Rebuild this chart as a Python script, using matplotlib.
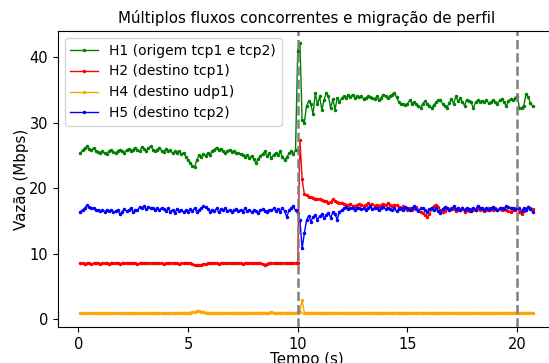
import numpy as np
import matplotlib
matplotlib.use("Agg")
import matplotlib.pyplot as plt

t = np.round(np.arange(1, 208) * 0.1, 1)

h1 = [
    25.3, 25.8, 26.1, 26.4, 26.0, 25.8, 26.1, 25.7, 25.5, 25.4,
    25.6, 25.3, 25.2, 25.6, 25.8, 25.5, 25.3, 25.7, 25.9, 25.6,
    25.4, 25.8, 26.0, 25.7, 25.9, 26.2, 25.8, 25.6, 26.3, 26.0,
    25.7, 26.1, 26.4, 25.9, 25.6, 25.9, 26.2, 25.7, 25.5, 26.0,
    25.6, 25.8, 25.3, 25.6, 25.4, 25.7, 25.2, 25.4, 24.8, 24.3,
    23.9, 23.4, 23.2, 24.3, 25.0, 24.7, 25.2, 24.9, 25.4, 25.1,
    25.6, 25.9, 26.2, 25.8, 26.0, 25.6, 25.3, 25.7, 25.9, 25.5,
    25.7, 25.3, 25.4, 25.2, 25.0, 24.8, 25.1, 24.6, 24.9, 24.4,
    23.8, 24.5, 24.9, 25.2, 25.6, 24.9, 25.3, 24.6, 25.1, 25.4,
    25.0, 25.6, 24.8, 24.3, 24.7, 25.3, 25.6, 25.2, 25.8, 41.0,
    42.2, 30.4, 30.0, 32.5, 33.3, 32.8, 31.3, 34.5, 32.8, 34.0,
    31.9, 33.5, 34.5, 34.0, 32.2, 33.6, 32.0, 33.8, 33.2, 33.7,
    34.0, 33.8, 34.2, 33.9, 34.3, 33.7, 34.0, 33.9, 34.1, 33.6,
    33.8, 34.0, 33.9, 33.7, 33.6, 34.0, 33.4, 33.8, 34.3, 34.1,
    33.7, 34.0, 34.3, 34.6, 33.9, 33.2, 32.8, 32.9, 32.7, 32.9,
    33.4, 32.9, 33.2, 32.8, 32.5, 32.3, 32.9, 33.3, 32.9, 32.6,
    32.2, 32.7, 33.1, 33.4, 33.5, 32.9, 32.6, 32.3, 33.0, 33.6,
    32.9, 34.0, 33.3, 33.7, 33.2, 32.6, 33.5, 33.3, 33.1, 32.2,
    33.1, 33.4, 33.2, 33.3, 33.2, 33.4, 33.0, 33.1, 33.5, 33.2,
    32.9, 33.4, 33.6, 33.2, 32.5, 33.3, 33.6, 33.4, 33.7, 34.1,
    32.2, 32.3, 32.6, 34.4, 33.9, 33.0, 32.5,
]

h2 = [
    8.5, 8.5, 8.4, 8.5, 8.5, 8.4, 8.5, 8.5, 8.5, 8.4,
    8.5, 8.5, 8.5, 8.4, 8.5, 8.5, 8.5, 8.5, 8.4, 8.5,
    8.5, 8.5, 8.6, 8.5, 8.5, 8.5, 8.4, 8.5, 8.5, 8.5,
    8.6, 8.5, 8.5, 8.5, 8.6, 8.5, 8.5, 8.5, 8.4, 8.5,
    8.5, 8.5, 8.5, 8.5, 8.5, 8.4, 8.5, 8.5, 8.5, 8.5,
    8.5, 8.4, 8.3, 8.2, 8.2, 8.3, 8.4, 8.4, 8.5, 8.5,
    8.5, 8.5, 8.5, 8.4, 8.5, 8.5, 8.5, 8.5, 8.5, 8.5,
    8.5, 8.5, 8.5, 8.5, 8.4, 8.5, 8.5, 8.5, 8.5, 8.5,
    8.5, 8.5, 8.5, 8.4, 8.3, 8.4, 8.5, 8.5, 8.5, 8.5,
    8.5, 8.5, 8.5, 8.5, 8.5, 8.5, 8.5, 8.5, 8.5, 8.5,
    27.3, 21.4, 19.1, 18.9, 18.7, 18.6, 18.5, 18.4, 18.4, 18.3,
    18.2, 18.1, 18.0, 17.8, 17.9, 18.3, 18.0, 17.9, 17.7, 17.8,
    17.6, 17.5, 17.4, 17.6, 17.3, 17.2, 17.4, 17.6, 17.5, 17.3,
    17.5, 17.7, 17.4, 17.6, 17.3, 17.5, 17.2, 17.5, 17.6, 17.4,
    17.7, 17.5, 17.3, 17.5, 17.4, 17.1, 16.8, 17.2, 16.9, 16.7,
    17.0, 16.6, 16.9, 17.1, 16.7, 16.4, 16.2, 15.9, 15.6, 16.0,
    16.8, 17.3, 17.5, 17.1, 16.6, 16.3, 16.5, 16.9, 16.7, 17.0,
    16.8, 16.5, 16.7, 16.6, 16.9, 16.4, 16.7, 16.5, 16.8, 16.6,
    16.7, 16.9, 16.6, 16.8, 16.5, 16.7, 16.9, 16.8, 16.6, 16.9,
    16.7, 16.8, 16.6, 16.9, 16.7, 16.5, 16.4, 16.7, 16.6, 16.9,
    16.4, 16.0, 16.5, 16.8, 17.1, 16.9, 16.8,
]

h4 = [
    0.9, 0.9, 0.9, 1.0, 0.9, 0.9, 1.0, 0.9, 0.9, 0.9,
    1.0, 0.9, 0.9, 0.9, 0.9, 1.0, 0.9, 0.9, 0.9, 0.9,
    1.0, 0.9, 0.9, 0.9, 1.0, 0.9, 0.9, 0.9, 0.9, 1.0,
    0.9, 0.9, 0.9, 1.0, 0.9, 0.9, 0.9, 0.9, 1.0, 0.9,
    0.9, 0.9, 1.0, 0.9, 1.0, 1.0, 1.0, 1.0, 1.0, 1.0,
    1.0, 1.1, 1.1, 1.2, 1.2, 1.1, 1.1, 1.0, 1.0, 1.0,
    1.0, 1.0, 0.9, 1.0, 1.0, 1.0, 0.9, 1.0, 1.0, 1.0,
    1.0, 1.0, 1.0, 1.0, 1.0, 1.0, 1.0, 1.0, 1.0, 1.0,
    1.0, 1.0, 1.0, 1.0, 1.0, 1.0, 1.0, 1.1, 1.0, 1.0,
    1.0, 1.0, 1.0, 1.0, 1.0, 1.0, 1.0, 1.0, 1.0, 1.0,
    1.1, 2.9, 1.0, 1.0, 1.0, 1.0, 1.0, 1.0, 1.0, 1.0,
    1.0, 1.0, 1.0, 1.0, 1.0, 1.0, 1.0, 1.0, 1.0, 1.0,
    1.0, 1.0, 1.0, 1.0, 1.0, 1.0, 1.0, 1.0, 1.0, 1.0,
    1.0, 1.0, 1.0, 1.0, 1.0, 1.0, 1.0, 1.0, 1.0, 1.0,
    1.0, 1.0, 1.0, 1.0, 1.0, 1.0, 1.0, 1.0, 1.0, 1.0,
    1.0, 1.0, 1.0, 1.0, 1.0, 1.0, 1.0, 1.0, 1.0, 1.0,
    1.0, 1.0, 1.0, 1.0, 1.0, 1.0, 1.0, 1.0, 1.0, 1.0,
    1.0, 1.0, 1.0, 1.0, 1.0, 1.0, 1.0, 1.0, 1.0, 1.0,
    1.0, 1.0, 1.0, 1.0, 1.0, 1.0, 1.0, 1.0, 1.0, 1.0,
    1.0, 1.0, 1.0, 1.0, 1.0, 1.0, 1.0, 1.0, 1.0, 1.0,
    1.0, 1.0, 1.0, 1.0, 1.0, 1.0, 1.0,
]

h5 = [
    16.4, 16.7, 16.9, 17.4, 17.1, 16.9, 17.0, 16.6, 16.7, 16.5,
    16.6, 16.4, 16.7, 16.5, 16.6, 16.3, 16.5, 16.7, 16.0, 16.4,
    16.8, 16.5, 16.6, 16.9, 16.4, 16.7, 16.6, 17.1, 16.9, 17.2,
    16.8, 17.1, 16.9, 17.0, 16.7, 16.9, 16.6, 17.0, 16.8, 16.5,
    16.9, 16.4, 16.7, 16.2, 16.8, 16.5, 16.7, 16.3, 16.6, 16.4,
    16.8, 16.5, 16.9, 16.4, 16.7, 16.9, 17.2, 17.1, 16.8, 16.4,
    16.7, 16.5, 16.9, 16.3, 16.8, 16.6, 16.9, 16.5, 16.7, 16.4,
    16.6, 16.8, 16.5, 16.7, 16.4, 16.9, 16.5, 16.7, 16.3, 16.6,
    16.5, 16.2, 16.6, 16.8, 16.5, 16.4, 16.7, 16.6, 16.9, 16.5,
    16.8, 16.4, 17.0, 16.5, 15.6, 16.6, 16.9, 17.2, 16.6, 16.2,
    15.1, 10.8, 13.1, 15.1, 15.8, 14.9, 15.6, 15.9, 15.2, 15.7,
    16.0, 15.4, 15.9, 16.2, 15.5, 16.3, 16.0, 15.2, 16.4, 16.6,
    16.9, 17.1, 16.8, 17.0, 16.9, 16.7, 16.9, 17.0, 16.8, 16.9,
    16.7, 16.9, 17.2, 16.8, 17.0, 16.9, 16.6, 16.9, 17.1, 16.8,
    17.0, 16.8, 16.6, 16.9, 16.5, 16.8, 17.0, 16.7, 17.1, 16.9,
    16.6, 16.9, 17.2, 16.8, 16.5, 16.9, 17.0, 16.7, 16.3, 16.8,
    17.0, 16.6, 16.9, 16.5, 16.2, 16.8, 17.1, 16.9, 16.6, 16.8,
    17.2, 16.8, 17.0, 16.6, 16.9, 16.7, 17.0, 16.8, 16.5, 16.9,
    16.7, 17.3, 16.9, 17.0, 16.7, 16.9, 16.6, 16.9, 17.1, 16.8,
    16.6, 16.9, 17.0, 16.8, 17.2, 17.1, 16.9, 17.0, 16.8, 17.1,
    16.9, 16.5, 17.0, 16.7, 17.1, 16.8, 16.4,
]

series = [
    ("H1 (origem tcp1 e tcp2)", h1, "green"),
    ("H2 (destino tcp1)", h2, "red"),
    ("H4 (destino udp1)", h4, "orange"),
    ("H5 (destino tcp2)", h5, "blue"),
]
events = [10, 20]

fig = plt.figure(figsize=(5.49, 3.63), dpi=100)
ax = fig.add_axes([0.1053, 0.0992, 0.906, 0.8154])

for label, vals, color in series:
    ax.plot(t, vals, marker=".", markersize=3, linewidth=1, color=color, label=label)

for e in events:
    ax.axvline(e, color="gray", linestyle="--", linewidth=1.8)

ax.set_xlim(-0.93, 21.73)
ax.set_ylim(-1.2, 44.0)
ax.set_xticks([0, 5, 10, 15, 20])
ax.set_yticks([0, 10, 20, 30, 40])
ax.tick_params(labelsize=10.5)
ax.set_xlabel("Tempo (s)", fontsize=10.8, labelpad=0.5)
ax.set_ylabel("Vazão (Mbps)", fontsize=10.8, labelpad=0.5)
ax.set_title("Múltiplos fluxos concorrentes e migração de perfil", fontsize=10.8)
ax.legend(loc="upper left", fontsize=10)

fig.savefig("out.png", dpi=100)
